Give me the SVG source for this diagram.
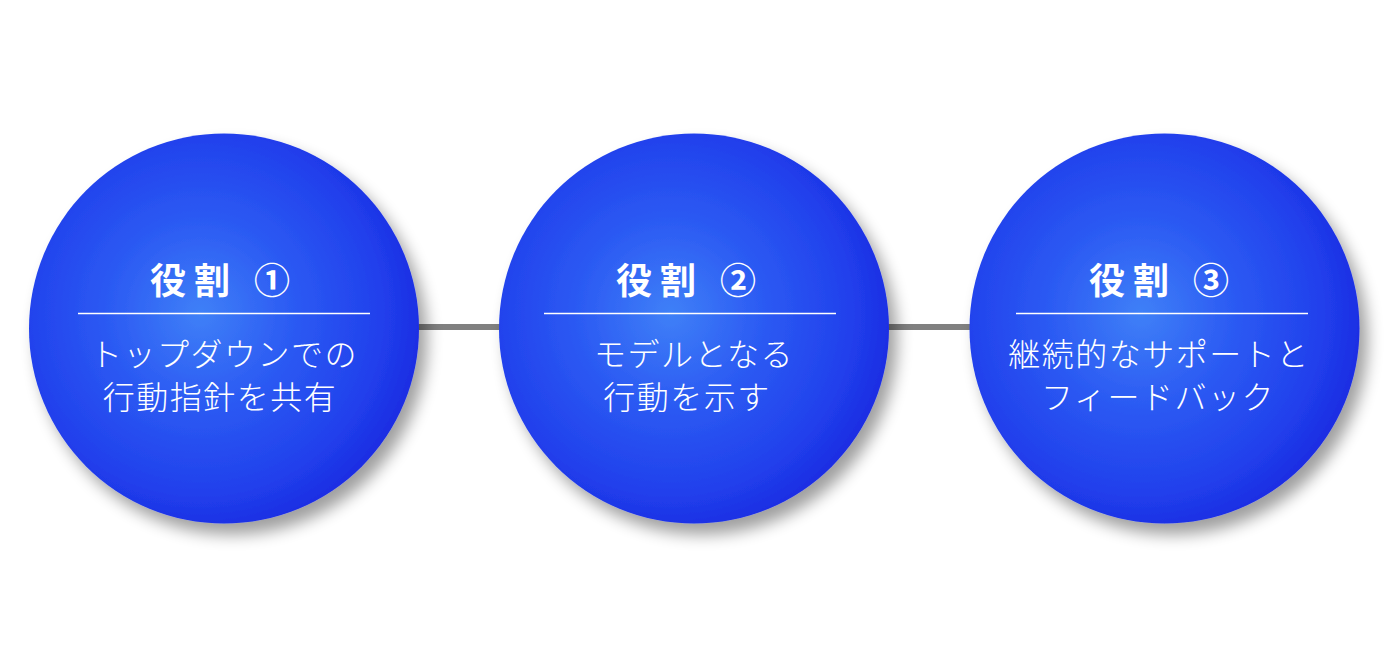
<svg xmlns="http://www.w3.org/2000/svg" width="1392" height="655" viewBox="0 0 1392 655">
  <defs>
    <radialGradient id="ballGrad" cx="0.44" cy="0.46" r="0.58" fx="0.44" fy="0.46">
      <stop offset="0" stop-color="#3f80f7"/>
      <stop offset="0.4" stop-color="#2c5bf3"/>
      <stop offset="0.8" stop-color="#2140ec"/>
      <stop offset="1" stop-color="#1b2be2"/>
    </radialGradient>
    <filter id="shadow" x="-20%" y="-20%" width="150%" height="150%">
      <feGaussianBlur in="SourceAlpha" stdDeviation="8"/>
      <feOffset dx="8" dy="11" result="b"/>
      <feComponentTransfer>
        <feFuncA type="linear" slope="0.38"/>
      </feComponentTransfer>
      <feMerge>
        <feMergeNode/>
        <feMergeNode in="SourceGraphic"/>
      </feMerge>
    </filter>
  </defs>
  <style>
    .ball { fill: url(#ballGrad); filter: url(#shadow); }
    .title { font-family: "Noto Sans CJK JP", "Noto Sans", sans-serif; font-weight: 700; font-size: 36px; fill: #ffffff; text-anchor: middle; letter-spacing: 8px; }
    .body { font-family: "Noto Sans CJK JP", "Noto Sans", sans-serif; font-weight: 300; font-size: 32px; fill: #ffffff; text-anchor: middle; letter-spacing: 1.5px; }
    .rule { stroke: #ffffff; stroke-width: 1.6; }
    .conn { stroke: #808080; stroke-width: 6; }
  </style>
  <rect width="1392" height="655" fill="#ffffff"/>
  <g id="connectors">
    <line class="conn" x1="415" y1="327" x2="503" y2="327"/>
    <line class="conn" x1="885" y1="327" x2="974" y2="327"/>
  </g>
  <g id="node1">
    <circle class="ball" cx="224" cy="328.5" r="195"/>
    <text class="title" x="224" y="294">役割 ①</text>
    <line class="rule" x1="78" y1="313.5" x2="370" y2="313.5"/>
    <text class="body" x="224" y="366">トップダウンでの</text>
    <text class="body" x="220" y="409">行動指針を共有</text>
  </g>
  <g id="node2">
    <circle class="ball" cx="694" cy="328.5" r="195"/>
    <text class="title" x="690" y="294">役割 ②</text>
    <line class="rule" x1="544" y1="313.5" x2="836" y2="313.5"/>
    <text class="body" x="694" y="366">モデルとなる</text>
    <text class="body" x="687" y="409">行動を示す</text>
  </g>
  <g id="node3">
    <circle class="ball" cx="1164.5" cy="328.5" r="195"/>
    <text class="title" x="1163" y="294">役割 ③</text>
    <line class="rule" x1="1016" y1="313.5" x2="1308" y2="313.5"/>
    <text class="body" x="1159" y="366">継続的なサポートと</text>
    <text class="body" x="1158" y="409">フィードバック</text>
  </g>
</svg>
